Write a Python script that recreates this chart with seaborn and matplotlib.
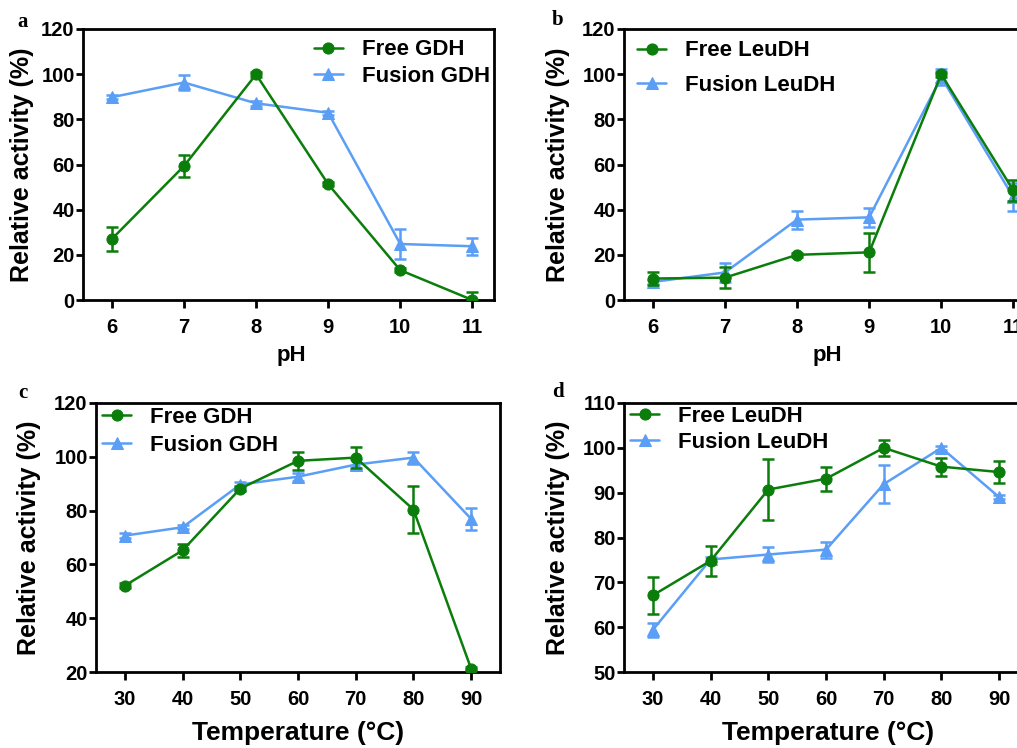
import numpy as np
import pandas as pd
import matplotlib
matplotlib.use("Agg")
import matplotlib.pyplot as plt
import seaborn as sns

# pH data (panels a, b)
ph = [6, 7, 8, 9, 10, 11]
free_gdh_ph = [27.0, 59.3, 99.9, 51.3, 13.2, 0.0]
free_gdh_ph_err = [5.4, 5.0, 1.0, 1.0, 1.0, 3.6]
fusion_gdh_ph = [89.8, 96.3, 87.1, 82.9, 24.8, 23.8]
fusion_gdh_ph_err = [1.0, 3.3, 1.0, 1.0, 6.8, 3.8]

free_leu_ph = [9.5, 9.9, 20.0, 21.1, 99.9, 48.5]
free_leu_ph_err = [3.0, 4.7, 0.8, 8.7, 1.0, 4.8]
fusion_leu_ph = [8.0, 12.2, 35.6, 36.6, 98.7, 45.5]
fusion_leu_ph_err = [1.0, 4.4, 4.0, 4.3, 3.5, 6.2]

# temperature data (panels c, d)
temp = [30, 40, 50, 60, 70, 80, 90]
free_gdh_t = [52.1, 65.2, 88.2, 98.5, 99.7, 80.4, 21.2]
free_gdh_t_err = [0.8, 2.3, 1.0, 3.3, 3.9, 8.7, 0.5]
fusion_gdh_t = [70.7, 73.8, 89.7, 92.6, 97.1, 99.7, 76.9]
fusion_gdh_t_err = [0.8, 0.8, 0.8, 1.5, 2.0, 2.2, 4.0]

free_leu_t = [67.1, 74.8, 90.7, 93.1, 100.0, 95.8, 94.6]
free_leu_t_err = [4.1, 3.3, 6.9, 2.7, 1.8, 2.0, 2.4]
fusion_leu_t = [59.4, 75.1, 76.2, 77.3, 91.9, 100.0, 89.0]
fusion_leu_t_err = [1.5, 0.5, 1.7, 1.8, 4.3, 0.5, 0.5]

GREEN = "#0b7d0b"
BLUE = "#5a9ef6"

sns.set_style("ticks")
plt.rcParams['font.family'] = ['Liberation Sans', 'DejaVu Sans']
plt.rcParams['font.weight'] = 'bold'
plt.rcParams['axes.labelweight'] = 'bold'
plt.rcParams['text.color'] = 'black'
plt.rcParams['axes.labelcolor'] = 'black'
plt.rcParams['xtick.color'] = 'black'
plt.rcParams['ytick.color'] = 'black'

fig = plt.figure(figsize=(10.17, 7.48), dpi=100)

W, H = 1017.0, 748.0
def box(l, t, r, b):
    return [l / W, 1 - b / H, (r - l) / W, (b - t) / H]

ax_a = fig.add_axes(box(83, 29, 494, 300))
ax_b = fig.add_axes(box(624, 29, 1035, 300))
ax_c = fig.add_axes(box(96, 403, 500, 672))
ax_d = fig.add_axes(box(624, 403, 1028, 672))


def draw(ax, x, free, free_err, fus, fus_err, free_lab, fus_lab):
    df = pd.DataFrame({"x": x, "free": free, "fus": fus})
    ax.errorbar(x, fus, yerr=fus_err, fmt="none", ecolor=BLUE,
                elinewidth=1.8, capsize=4.5, capthick=1.8, zorder=2)
    sns.lineplot(data=df, x="x", y="fus", ax=ax, color=BLUE, marker="^",
                 markersize=8.5, markeredgecolor=BLUE, linewidth=1.8,
                 label=fus_lab, zorder=3)
    ax.errorbar(x, free, yerr=free_err, fmt="none", ecolor=GREEN,
                elinewidth=1.8, capsize=4.5, capthick=1.8, zorder=4)
    sns.lineplot(data=df, x="x", y="free", ax=ax, color=GREEN, marker="o",
                 markersize=8, markeredgecolor=GREEN, linewidth=1.8,
                 label=free_lab, zorder=5)
    for s in ax.spines.values():
        s.set_linewidth(2)
        s.set_color("black")
    ax.tick_params(direction="out", length=5, width=2, labelsize=14.5,
                   colors="black")
    ax.tick_params(axis="x", pad=7, length=6)
    ax.tick_params(axis="y", pad=1)
    for t in ax.get_xticklabels() + ax.get_yticklabels():
        t.set_fontweight("bold")
    ax.set_ylabel("Relative activity (%)", fontsize=18, fontweight="bold")


draw(ax_a, ph, free_gdh_ph, free_gdh_ph_err, fusion_gdh_ph, fusion_gdh_ph_err,
     "Free GDH", "Fusion GDH")
draw(ax_b, ph, free_leu_ph, free_leu_ph_err, fusion_leu_ph, fusion_leu_ph_err,
     "Free LeuDH", "Fusion LeuDH")
draw(ax_c, temp, free_gdh_t, free_gdh_t_err, fusion_gdh_t, fusion_gdh_t_err,
     "Free GDH", "Fusion GDH")
draw(ax_d, temp, free_leu_t, free_leu_t_err, fusion_leu_t, fusion_leu_t_err,
     "Free LeuDH", "Fusion LeuDH")

for ax in (ax_a, ax_b):
    ax.set_xlim(5.6, 11.3)
    ax.set_xticks(ph)
    ax.set_ylim(0, 120)
    ax.set_yticks(range(0, 121, 20))
    ax.set_xlabel("pH", fontsize=16, fontweight="bold")
for ax in (ax_c, ax_d):
    ax.set_xlim(25, 95)
    ax.set_xticks(temp)
    ax.set_xlabel("Temperature (\u00b0C)", fontsize=19, fontweight="bold")
ax_c.set_ylim(20, 120)
ax_c.set_yticks(range(20, 121, 20))
ax_d.set_ylim(50, 110)
ax_d.set_yticks(range(50, 111, 10))

# label placement
ax_a.yaxis.set_label_coords(-0.148, 0.5)
ax_b.yaxis.set_label_coords(-0.160, 0.5)
ax_c.yaxis.set_label_coords(-0.166, 0.5)
ax_d.yaxis.set_label_coords(-0.163, 0.5)
ax_a.xaxis.set_label_coords(0.508, -0.203)
ax_b.xaxis.set_label_coords(0.494, -0.203)
ax_c.xaxis.set_label_coords(0.500, -0.227)
ax_d.xaxis.set_label_coords(0.505, -0.227)
for ax in (ax_a, ax_b, ax_c, ax_d):
    ax.xaxis.label.set_va("center")
    ax.yaxis.label.set_va("center")

# legends (Free first)
def legend(ax, x0, y0, spacing):
    h, l = ax.get_legend_handles_labels()
    ax.legend(h[::-1], l[::-1], loc="upper left", bbox_to_anchor=(x0, y0),
              frameon=False, fontsize=16, handlelength=1.3,
              handletextpad=0.85, labelspacing=spacing, borderpad=0,
              borderaxespad=0)

legend(ax_a, 0.562, 0.962, 0.25)
legend(ax_b, 0.032, 0.958, 0.62)
legend(ax_c, 0.015, 0.985, 0.3)
legend(ax_d, 0.015, 0.990, 0.25)

# panel letters
for txt, x, y in (("a", 23, 22), ("b", 558, 20), ("c", 23, 393), ("d", 558, 392)):
    fig.text(x / W, 1 - y / H, txt, fontsize=15, fontweight="bold",
             family=["Liberation Serif", "DejaVu Serif"], ha="center", va="center")

fig.savefig("out.png", dpi=100)
